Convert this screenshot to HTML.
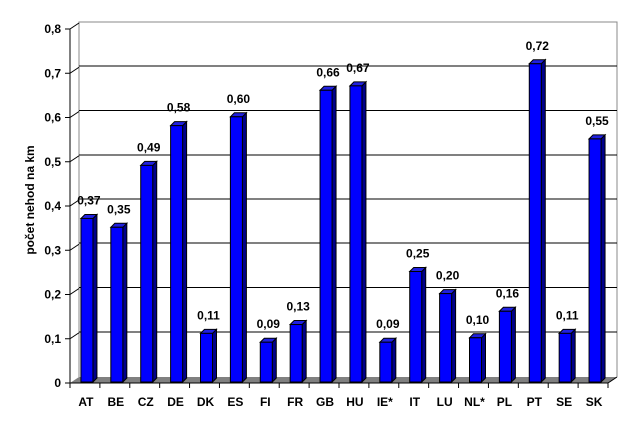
<!DOCTYPE html><html><head><style>body{margin:0;background:#fff}</style></head><body>
<svg width="633" height="431" xmlns="http://www.w3.org/2000/svg" font-family="Liberation Sans, Arial, sans-serif" font-weight="bold">
<rect width="633" height="431" fill="#fff"/>
<polyline points="79,377 79,22 617,22 617,377" fill="none" stroke="#888" stroke-width="1"/>
<polygon points="70,383 79,377 617,377 608,383" fill="#808080"/>
<g stroke="#000" stroke-width="1">
<line x1="79" y1="66" x2="617" y2="66"/><line x1="79" y1="110.5" x2="617" y2="110.5"/>
<line x1="79" y1="155" x2="617" y2="155"/><line x1="79" y1="199" x2="617" y2="199"/>
<line x1="79" y1="243" x2="617" y2="243"/><line x1="79" y1="287.5" x2="617" y2="287.5"/>
<line x1="79" y1="332" x2="617" y2="332"/>
<line x1="70" y1="29" x2="70" y2="383"/><line x1="70" y1="383" x2="608" y2="383"/>
<line x1="608" y1="383" x2="617" y2="377"/>
</g>
<g stroke="#000" stroke-width="1" fill="none" id="ticks"></g>
<g font-size="12" text-anchor="end" id="yl"></g>
<g id="bars"></g>
<text transform="translate(34,200) rotate(-90)" font-size="12" text-anchor="middle">počet nehod na km</text>
<script>
var s="http://www.w3.org/2000/svg";
function el(p,t,a,tx){var e=document.createElementNS(s,t);for(var k in a)e.setAttribute(k,a[k]);if(tx!=null)e.textContent=tx;p.appendChild(e);return e;}
var tk=document.getElementById('ticks'),yl=document.getElementById('yl'),bg=document.getElementById('bars');
for(var i=0;i<=8;i++){var y=383-i*44.25;el(tk,'line',{x1:65,y1:y,x2:70,y2:y});if(i>0)el(tk,'polyline',{points:'70,'+y+' 79,'+(y-6)});el(yl,'text',{x:61,y:y+4},i==0?'0':'0,'+i);}
var c=['AT','BE','CZ','DE','DK','ES','FI','FR','GB','HU','IE*','IT','LU','NL*','PL','PT','SE','SK'];
var v=[.37,.35,.49,.58,.11,.60,.09,.13,.66,.67,.09,.25,.20,.10,.16,.72,.11,.55];
var w=538/18;
for(var k=0;k<18;k++){var x0=70+k*w;el(tk,'line',{x1:x0,y1:383,x2:x0,y2:388});
var cx=x0+w/2+2,l=cx-6,r=cx+6,b=382,t=382-v[k]*442;
el(bg,'polygon',{points:r+','+t+' '+(r+4)+','+(t-4)+' '+(r+4)+','+(b-4)+' '+r+','+b,fill:'#00008b',stroke:'#000'});
el(bg,'polygon',{points:l+','+t+' '+(l+4)+','+(t-4)+' '+(r+4)+','+(t-4)+' '+r+','+t,fill:'#2020e0',stroke:'#000'});
el(bg,'rect',{x:l,y:t,width:12,height:b-t,fill:'#0000ff',stroke:'#000'});
el(bg,'text',{x:cx+2,y:t-14,'font-size':12,'text-anchor':'middle'},v[k].toFixed(2).replace('.',','));
el(bg,'text',{x:cx-1,y:406,'font-size':12,'text-anchor':'middle'},c[k]);}
el(tk,'line',{x1:608,y1:383,x2:608,y2:388});
</script>
</svg></body></html>
